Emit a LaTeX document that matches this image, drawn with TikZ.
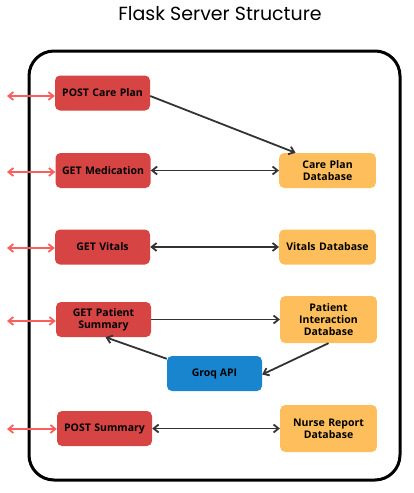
\documentclass[tikz,border=0pt]{standalone}
\usepackage{fontspec}
\setmainfont{Open Sans}
\newfontfamily\titlefont{Poppins}
\usepackage{xcolor}
\usetikzlibrary{arrows.meta, positioning}

\definecolor{routered}{HTML}{D64444}
\definecolor{dbyellow}{HTML}{FDBE5B}
\definecolor{apiblue}{HTML}{1A85CF}
\definecolor{linkred}{HTML}{F86060}
\definecolor{linkgrey}{HTML}{333333}

\begin{document}
\begin{tikzpicture}[x=1pt, y=-1pt,
    route/.style={rectangle, rounded corners=5pt, fill=routered, minimum width=95pt, minimum height=35pt, text width=88pt, align=center, font=\fontsize{10.5}{12}\selectfont\bfseries},
    store/.style={rectangle, rounded corners=5pt, fill=dbyellow, minimum width=95pt, minimum height=35pt, text width=90pt, align=center, font=\fontsize{10.5}{12}\selectfont\bfseries},
    service/.style={rectangle, rounded corners=5pt, fill=apiblue, minimum width=95pt, minimum height=35pt, align=center, font=\fontsize{10.5}{12}\selectfont\bfseries},
    link/.style={linkgrey, line width=1.8pt, -{Straight Barb[length=5pt, width=8pt]}},
    biglink/.style={linkgrey, line width=1.8pt, {Straight Barb[length=5pt, width=8pt]}-{Straight Barb[length=5pt, width=8pt]}},
    client/.style={linkred, line width=1.8pt, {Straight Barb[length=5pt, width=8pt]}-{Straight Barb[length=5pt, width=8pt]}}]
    \useasboundingbox (0,0) rectangle (414,493);

    % Title and server frame
    \node[font=\titlefont\fontsize{19}{21}\selectfont] (title) at (220,14) {Flask Server Structure};
    \draw[line width=3pt, rounded corners=25pt] (29,51) rectangle (400,480);

    % Routes
    \node[route] (postplan) at (102.5,93) {POST Care Plan};
    \node[route] (getmed) at (103,170.5) {GET Medication};
    \node[route] (getvitals) at (102.5,247) {GET Vitals};
    \node[route] (getsummary) at (103.5,319.5) {GET Patient\\Summary};
    \node[route] (postsummary) at (104.5,428.5) {POST Summary};

    % Databases
    \node[store] (plandb) at (327.5,170.5) {Care Plan\\Database};
    \node[store] (vitalsdb) at (327.5,247) {Vitals Database};
    \node[store, minimum height=47pt] (interdb) at (328.5,319.5) {Patient\\Interaction\\Database};
    \node[store, minimum height=47pt] (nursedb) at (328.5,428.5) {Nurse Report\\Database};

    % External API
    \node[service] (groq) at (214.5,373.5) {Groq API};

    % Client side ends
    \coordinate (cplan) at (7,96);
    \coordinate (cmed) at (7,172);
    \coordinate (cvitals) at (7,248);
    \coordinate (csummary) at (7,321);
    \coordinate (cpost) at (7,429);
    \draw[client] (cplan) -- (postplan.west |- cplan);
    \draw[client] (cmed) -- (getmed.west |- cmed);
    \draw[client] (cvitals) -- (getvitals.west |- cvitals);
    \draw[client] (csummary) -- (getsummary.west |- csummary);
    \draw[client] (cpost) -- (postsummary.west |- cpost);

    % Server links
    \draw[link] (postplan.east) ++(0,3) -- ([xshift=-32pt]plandb.north);
    \draw[biglink] (getmed.east) -- (plandb.west);
    \draw[biglink] (getvitals.east) -- (vitalsdb.west);
    \draw[link] (getsummary.east) -- (interdb.west);
    \draw[link] (interdb.south) -- ([yshift=-1pt]groq.east);
    \draw[link] ([yshift=-3pt]groq.north west) -- ([xshift=2pt]getsummary.south);
    \draw[biglink] (postsummary.east) -- (nursedb.west);
\end{tikzpicture}
\end{document}
